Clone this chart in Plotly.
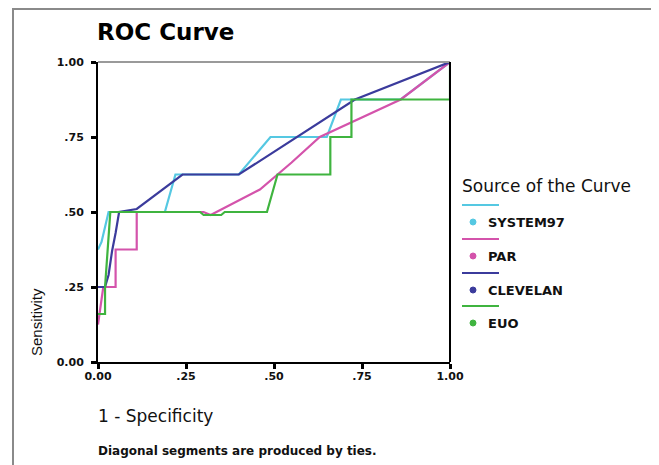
import plotly.graph_objects as go

# ---- data ----
series_names = ["SYSTEM97", "PAR", "CLEVELAN", "EUO"]
series_colors = ["#55c8e2", "#d453ab", "#3b3b9c", "#3fb43f"]

system97_x = [0.0, 0.01, 0.02, 0.03, 0.19, 0.22, 0.40, 0.49, 0.65, 0.69, 0.86, 1.0]
system97_y = [0.375, 0.40, 0.45, 0.50, 0.50, 0.625, 0.625, 0.75, 0.75, 0.875, 0.875, 1.0]

par_x = [0.0, 0.015, 0.05, 0.05, 0.11, 0.11, 0.30, 0.32, 0.46, 0.55, 0.63, 0.86, 1.0]
par_y = [0.125, 0.25, 0.25, 0.375, 0.375, 0.50, 0.50, 0.49, 0.575, 0.665, 0.75, 0.875, 1.0]

clevelan_x = [0.0, 0.02, 0.03, 0.04, 0.05, 0.06, 0.11, 0.24, 0.40, 0.73, 1.0]
clevelan_y = [0.25, 0.25, 0.29, 0.37, 0.43, 0.50, 0.51, 0.625, 0.625, 0.875, 1.0]

euo_x = [0.0, 0.02, 0.02, 0.03, 0.035, 0.29, 0.30, 0.35, 0.36, 0.48, 0.51, 0.66, 0.66, 0.72, 0.72, 1.0, 1.0]
euo_y = [0.16, 0.16, 0.25, 0.40, 0.50, 0.50, 0.49, 0.49, 0.50, 0.50, 0.625, 0.625, 0.75, 0.75, 0.875, 0.875, 1.0]

tick_vals = [0, 0.25, 0.5, 0.75, 1.0]
tick_text = ["0.00", ".25", ".50", ".75", "1.00"]

xs = [system97_x, par_x, clevelan_x, euo_x]
ys = [system97_y, par_y, clevelan_y, euo_y]

OFF = 8  # page body margin
W, H = 659 - OFF, 465 - OFF
# plot area in page pixels
L, R, T, B = 98, 450, 62, 362


def px(x):
    return (x - L) / (R - L)


def py(y):
    return (B - y) / (B - T)


fig = go.Figure()
for name, c, x, y in zip(series_names, series_colors, xs, ys):
    fig.add_trace(go.Scatter(x=x, y=y, mode="lines", name=name,
                             line=dict(color=c, width=2.2), showlegend=False))

font = "DejaVu Sans, Verdana, sans-serif"
font2 = "Liberation Sans, Arial, sans-serif"
shapes = []
annotations = []

# outer frame
shapes.append(dict(type="rect", xref="paper", yref="paper",
                   x0=px(13), x1=px(655.5), y0=py(490), y1=py(9),
                   line=dict(color="#8a8a8a", width=2), layer="below"))
# top (gray) and right (black) frame of the plot
shapes.append(dict(type="line", xref="paper", yref="paper", x0=0, x1=1, y0=1, y1=1,
                   line=dict(color="#9a9a9a", width=2)))
shapes.append(dict(type="line", xref="paper", yref="paper", x0=1, x1=1, y0=0, y1=1,
                   line=dict(color="black", width=2)))

# custom legend
annotations.append(dict(text="Source of the Curve", xref="paper", yref="paper",
                        x=px(460), y=py(186), xanchor="left", yanchor="middle",
                        showarrow=False, font=dict(family=font, size=17, color="#111")))
leg_line_y = [205, 239, 273, 306]
for i, (name, c) in enumerate(zip(series_names, series_colors)):
    ly = leg_line_y[i]
    shapes.append(dict(type="line", xref="paper", yref="paper",
                       x0=px(462), x1=px(499), y0=py(ly), y1=py(ly),
                       line=dict(color=c, width=2)))
    shapes.append(dict(type="circle", xref="paper", yref="paper",
                       x0=px(470), x1=px(476), y0=py(ly + 20), y1=py(ly + 14),
                       fillcolor=c, line=dict(color=c, width=1)))
    annotations.append(dict(text="<b>" + name + "</b>", xref="paper", yref="paper",
                            x=px(486), y=py(ly + 17), xanchor="left", yanchor="middle",
                            showarrow=False, font=dict(family=font, size=13, color="#111")))

annotations.append(dict(text="<b>ROC Curve</b>", xref="paper", yref="paper",
                        x=px(95), y=py(32), xanchor="left", yanchor="middle",
                        showarrow=False, font=dict(family=font, size=23, color="black")))
annotations.append(dict(text="1 - Specificity", xref="paper", yref="paper",
                        x=px(96), y=py(416), xanchor="left", yanchor="middle",
                        showarrow=False, font=dict(family=font, size=17, color="#111")))
annotations.append(dict(text="Sensitivity", xref="paper", yref="paper",
                        x=px(36), y=py(322), xanchor="center", yanchor="middle", textangle=-90,
                        showarrow=False, font=dict(family=font2, size=15, color="#111")))
annotations.append(dict(text="<b>Diagonal segments are produced by ties.</b>", xref="paper", yref="paper",
                        x=px(96), y=py(451), xanchor="left", yanchor="middle",
                        showarrow=False, font=dict(family=font, size=12, color="#111")))

axis_common = dict(range=[0, 1], tickmode="array", tickvals=tick_vals,
                   ticktext=["<b>" + t + "</b>" for t in tick_text],
                   showgrid=False, zeroline=False, showline=True, linecolor="black",
                   linewidth=2, ticks="outside", ticklen=5, tickwidth=3, tickcolor="black",
                   tickfont=dict(family=font, size=11, color="#111"), fixedrange=True)

fig.update_layout(
    width=W, height=H,
    margin=dict(l=L - OFF, r=W - (R - OFF), t=T - OFF, b=H - (B - OFF), pad=0),
    paper_bgcolor="white", plot_bgcolor="white",
    xaxis=dict(**axis_common, ticklabelstandoff=-2),
    yaxis=dict(**axis_common, ticklabelstandoff=5),
    shapes=shapes, annotations=annotations,
    showlegend=False,
)

fig.write_html("out.html")
